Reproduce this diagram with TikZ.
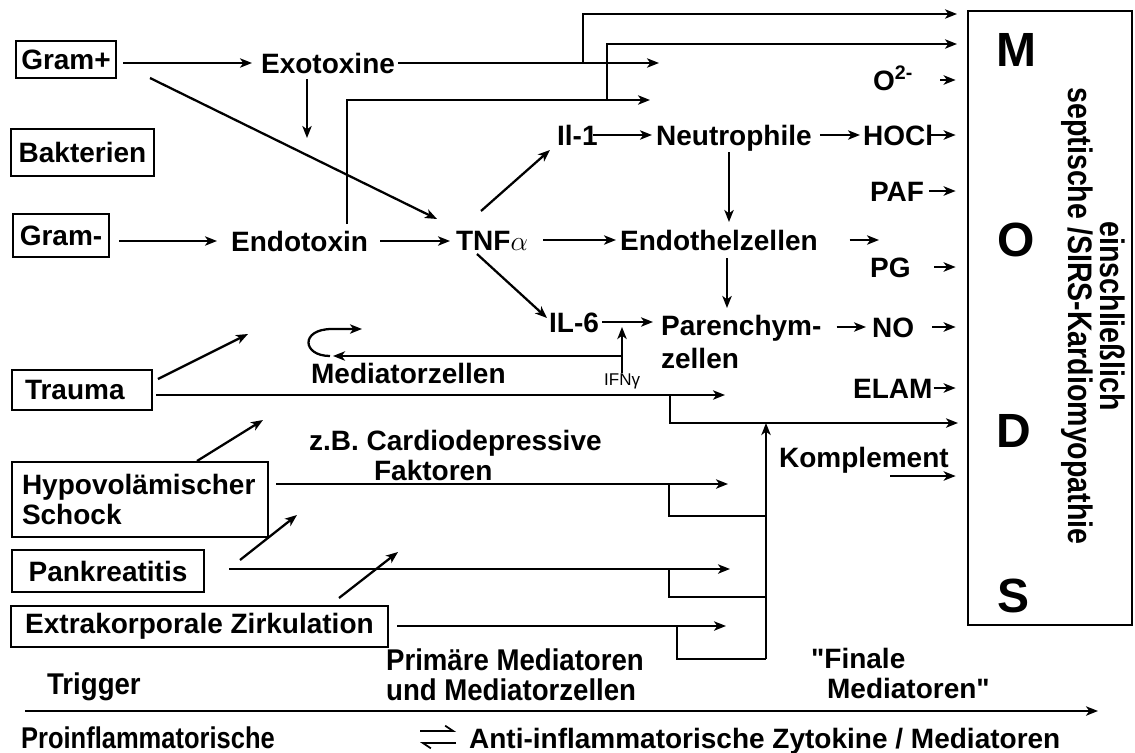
\documentclass[tikz,border=0pt]{standalone}
\usepackage{fontspec}
\setmainfont{Liberation Sans}[Ligatures=TeXOff]
\newfontfamily\narrowf{Liberation Sans}[FakeStretch=0.92]
\newfontfamily\narrowpf{Liberation Sans}[FakeStretch=0.85]
\newfontfamily\rotf{Liberation Sans}[FakeStretch=0.84]
\usetikzlibrary{arrows.meta}
\newcommand\fmain{\fontsize{21}{25}\selectfont\bfseries}
\newcommand\fnarrow{\narrowf\fontsize{22.5}{26}\selectfont\bfseries}
\newcommand\fnarrowp{\narrowpf\fontsize{22.5}{26}\selectfont\bfseries}
\newcommand\frot{\rotf\fontsize{25.5}{28}\selectfont\bfseries}
\newcommand\fbig{\fontsize{36}{40}\selectfont\bfseries}
\newcommand\fsmall{\fontsize{12.75}{15}\selectfont}
\begin{document}
\begin{tikzpicture}[x=0.75pt,y=-0.75pt,line width=1.7pt,
 arr/.style={-{Stealth[length=9pt,width=7pt,inset=2.5pt]}},
 box/.style={draw,line width=2pt,inner sep=0pt,font=\fmain},
 lbl/.style={inner sep=0pt,font=\fmain,text height=15pt,text depth=0pt,anchor=west},
 nlbl/.style={inner sep=0pt,font=\fnarrow,text height=16pt,text depth=0pt,anchor=west},
 big/.style={inner sep=0pt,font=\fbig},
 rot/.style={inner sep=0pt,font=\frot,rotate=-90},
 harp/.style={-{Straight Barb[harpoon,length=6pt,width=8pt]},line width=1.3pt},
 tomods/.style={arr,shorten >=8.25pt}]
\useasboundingbox (0,0) rectangle (1135,753);

% boxes
\node[box,minimum width=75pt,minimum height=27.75pt] (gramp) at (66,59.5) {Gram+};
\node[box,minimum width=107.25pt,minimum height=35.25pt] (bakt) at (82.5,152.5) {Bakterien};
\node[box,minimum width=72pt,minimum height=32.25pt] (gramm) at (61,235.5) {Gram-};
\node[box,minimum width=105pt,minimum height=30pt,align=left,text width=85.5pt,inner xsep=9.75pt] (trauma) at (82,390) {Trauma};
\node[box,minimum width=192pt,minimum height=56.25pt,align=left,text width=177pt,inner xsep=7.5pt,font={\fontsize{21}{22.5}\selectfont\bfseries}] (hypo) at (140,499.5) {Hypovolämischer\\Schock};
\node[box,minimum width=144pt,minimum height=31.5pt] (pank) at (108,571) {Pankreatitis};
\node[box,minimum width=282.75pt,minimum height=30.75pt] (extra) at (199.5,626.5) {Extrakorporale Zirkulation};
\node[draw,line width=2pt,minimum width=123pt,minimum height=460.5pt,inner sep=0pt] (mods) at (1050,318) {};

% MODS letters and rotated text
\node[big] (lm) at (1016,50) {M};
\node[big] (lo) at (1016,240) {O};
\node[big] (ld) at (1014,431) {D};
\node[big] (ls) at (1013,596) {S};
\node[rot] (rot1) at (1113,316) {einschließlich};
\node[rot] (rot2) at (1077,316) {septische /SIRS-Kardiomyopathie};

% text labels
\node[lbl] (exo) at (260,63) {Exotoxine};
\node[lbl] (endo) at (230,241) {Endotoxin};
\node[lbl] (tnf) at (455,240) {TNF$\alpha$};
\node[lbl] (il1) at (556,135) {Il-1};
\node[lbl] (neut) at (655,135) {Neutrophile};
\node[lbl] (endoth) at (619,240) {Endothelzellen};
\node[lbl] (il6) at (548,322) {IL-6};
\node[lbl] (par1) at (660,325) {Parenchym-};
\node[lbl] (par2) at (660,358) {zellen};
\node[lbl] (medz) at (310,373) {Mediatorzellen};
\node[inner sep=0pt,font=\fsmall,anchor=west,text height=9.2pt,text depth=0pt] (ifn) at (603,379) {IFNγ};
\node[lbl] (zb) at (308,440) {z.B. Cardiodepressive};
\node[lbl] (fak) at (373,470) {Faktoren};
\node[lbl] (o2) at (872,80) {O\textsuperscript{2-}};
\node[lbl] (hocl) at (862,135) {HOCl};
\node[lbl] (paf) at (869,191) {PAF};
\node[lbl] (pg) at (869,267) {PG};
\node[lbl] (no) at (871,327) {NO};
\node[lbl] (elam) at (852,388) {ELAM};
\node[lbl] (kompl) at (778,457) {Komplement};
\node[nlbl,font=\fnarrow] (prim1) at (385,660) {Primäre Mediatoren};
\node[nlbl] (prim2) at (385,690) {und Mediatorzellen};
\node[nlbl] (trig) at (46,684) {Trigger};
\node[lbl] (fin1) at (810,658) {"Finale};
\node[lbl] (fin2) at (826,688) {Mediatoren"};
\node[nlbl,font=\fnarrowp] (proinf) at (20,738) {Proinflammatorische};
\node[lbl] (anti) at (468,738) {Anti-inflammatorische Zytokine / Mediatoren};

% coordinates for free ends
\coordinate (exoE) at (659,63);
\coordinate (j1) at (583,63); \coordinate (t1) at (957,14);
\coordinate (endoUp) at (347,224); \coordinate (e2) at (650,100);
\coordinate (j2) at (607,100); \coordinate (t2) at (957,44);
\coordinate (xd1) at (307,79); \coordinate (xd2) at (307,138);
\coordinate (gd1) at (150,78); \coordinate (gd2) at (437,219);
\coordinate (d1a) at (481,211); \coordinate (d1b) at (550,150);
\coordinate (d2a) at (477,254); \coordinate (d2b) at (547,318);
\coordinate (nd1) at (729,152); \coordinate (nd2) at (729,222);
\coordinate (ed1) at (727,258); \coordinate (ed2) at (727,308);
\coordinate (endR) at (879,240);
\coordinate (if1) at (622,373); \coordinate (if2) at (622,327);
\coordinate (mh1) at (622,356); \coordinate (mh2) at (333,356);
\coordinate (lp1) at (330,356); \coordinate (lp2) at (362,329);
\coordinate (trR) at (725,395);
\coordinate (j3) at (670,395); \coordinate (fE) at (958,423);
\coordinate (hyR) at (728,484);
\coordinate (j4) at (669,484); \coordinate (v1) at (766,516);
\coordinate (paR) at (730,569);
\coordinate (j5) at (669,569); \coordinate (v2) at (766,597);
\coordinate (exR) at (726,626);
\coordinate (j6) at (677,626); \coordinate (v3) at (766,659);
\coordinate (v0) at (766,423);
\coordinate (ta1) at (158,379); \coordinate (ta2) at (248,334);
\coordinate (ha1) at (197,461); \coordinate (ha2) at (263,420);
\coordinate (pa1) at (240,560); \coordinate (pa2) at (297,515);
\coordinate (xa1) at (339,598); \coordinate (xa2) at (398,552);
\coordinate (kL) at (890,476);
\coordinate (bl1) at (25,711); \coordinate (bl2) at (1098,711);
\coordinate (h1) at (420,731); \coordinate (h2) at (456,731);
\coordinate (h3) at (456,743); \coordinate (h4) at (420,743);

% top part
\draw[arr,shorten <=4.5pt,shorten >=6pt] (gramp.east |- exo.west) -- (exo.west);
\draw[arr,shorten <=1.5pt] (exo.east) -- (exoE);
\draw[arr] (j1) |- (t1);
\draw[arr] (endoUp) |- (e2);
\draw[arr] (j2) |- (t2);
\draw[arr] (xd1) -- (xd2);
\draw[arr] (gd1) -- (gd2);
\draw[arr,shorten <=6.75pt,shorten >=9.75pt] (gramm.east |- endo.west) -- (endo.west);
\draw[arr,shorten <=8.25pt,shorten >=3.75pt] (endo.east) -- (endo.east -| tnf.west);
\draw[arr,shorten <=10.5pt,shorten >=2.25pt] (tnf.east) -- (tnf.east -| endoth.west);
\draw[arr] (d1a) -- (d1b);
\draw[arr] (d2a) -- (d2b);
\draw[arr,shorten <=-4pt,shorten >=2.25pt] (il1.east) -- (il1.east -| neut.west);
\draw[arr,shorten <=5.25pt,shorten >=1.5pt] (neut.east) -- (neut.east -| hocl.west);
\draw[arr] (nd1) -- (nd2);
\draw[arr] (ed1) -- (ed2);
\draw[arr,shorten <=23pt] (endoth.east) -- (endR);
\draw[arr,shorten <=1.5pt,shorten >=5.25pt] (il6.east) -- (il6.east -| par1.west);
\draw[arr] (if1) -- (if2);
\draw[arr] (mh1) -- (mh2);
\draw[arr] (lp1) .. controls (302,356) and (300,329) .. (332,329) -- (lp2);
\draw[arr,shorten <=10.5pt,shorten >=3.75pt] (par1.east |- no.west) -- (no.west);

% arrows into MODS
\draw[tomods,shorten <=19.5pt] (o2.east) -- (o2.east -| mods.west);
\draw[tomods,shorten <=-3pt] (hocl.east) -- (hocl.east -| mods.west);
\draw[tomods,shorten <=3pt] (paf.east) -- (paf.east -| mods.west);
\draw[tomods,shorten <=17pt] (pg.east) -- (pg.east -| mods.west);
\draw[tomods,shorten <=12.75pt] (no.east) -- (no.east -| mods.west);
\draw[tomods,shorten <=0pt] (elam.east) -- (elam.east -| mods.west);
\draw[tomods] (kL) -- (kL -| mods.west);

% trigger lines
\draw[arr,shorten <=2.25pt] (trauma.east |- trR) -- (trR);
\draw[arr] (j3) |- (fE);
\draw[arr,shorten <=5.25pt] (hypo.east |- hyR) -- (hyR);
\draw (j4) |- (v1);
\draw[arr,shorten <=18pt] (pank.east |- paR) -- (paR);
\draw (j5) |- (v2);
\draw[arr,shorten <=6pt] (extra.east |- exR) -- (exR);
\draw (j6) |- (v3);
\draw[arr] (v3) -- (v0);
\draw[arr] (ta1) -- (ta2);
\draw[arr] (ha1) -- (ha2);
\draw[arr] (pa1) -- (pa2);
\draw[arr] (xa1) -- (xa2);

% bottom
\draw[arr] (bl1) -- (bl2);
\draw[harp] (h1) -- (h2);
\draw[harp] (h3) -- (h4);
\end{tikzpicture}
\end{document}
